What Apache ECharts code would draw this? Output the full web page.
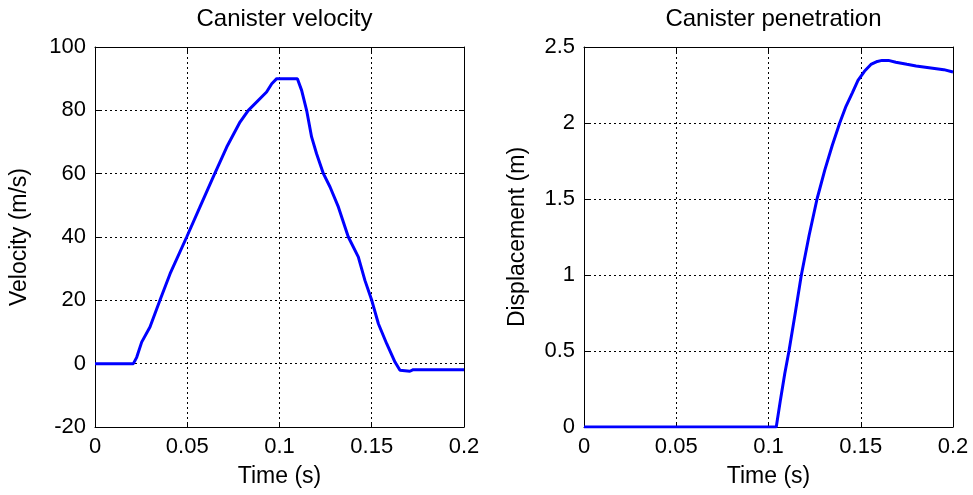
<!DOCTYPE html>
<html>
<head>
<meta charset="utf-8">
<script src="https://cdn.jsdelivr.net/npm/echarts@6/dist/echarts.min.js"></script>
<style>
  html, body { margin: 0; padding: 0; background: #fff; }
  #chart { width: 973px; height: 495px; }
</style>
</head>
<body>
<div id="chart"></div>
<script>
// Canister velocity history (s, m/s)
const velTime = [0, 0.0208, 0.0226, 0.0253, 0.0298, 0.0352, 0.0407, 0.0497, 0.0569, 0.0641,
  0.0714, 0.0786, 0.0831, 0.0930, 0.0958, 0.0985, 0.1097, 0.1120, 0.1147, 0.1174,
  0.1201, 0.1238, 0.1274, 0.1319, 0.1373, 0.1427, 0.1463, 0.1500, 0.1536, 0.1581,
  0.1626, 0.1653, 0.1707, 0.1725, 0.2];
const velocity = [0, 0, 2, 6.8, 11.6, 20, 28.4, 40, 49.5, 59,
  68.4, 76.3, 80, 85.8, 88.4, 90, 90, 86.3, 80, 71.6,
  66.3, 60, 55.8, 49.5, 40, 33.7, 26.3, 20, 12.6, 6.3,
  0.5, -2.1, -2.4, -1.9, -1.9];

// Canister penetration history (s, m)
const dispTime = [0, 0.1042, 0.1065, 0.1088, 0.1111, 0.1145, 0.1178, 0.1220, 0.1263, 0.1305,
  0.1345, 0.1386, 0.1420, 0.1455, 0.1485, 0.1520, 0.1555, 0.1590, 0.1615, 0.1650,
  0.1690, 0.1750, 0.1800, 0.1870, 0.1950, 0.2];
const displacement = [0, 0, 0.18, 0.35, 0.5, 0.75, 1.0, 1.26, 1.5, 1.69,
  1.85, 2.0, 2.11, 2.20, 2.28, 2.34, 2.385, 2.405, 2.412, 2.412,
  2.40, 2.386, 2.375, 2.364, 2.351, 2.336];

const titles = ['Canister velocity', 'Canister penetration'];
const yNames = ['Velocity (m/s)', 'Displacement (m)'];
const xName = 'Time (s)';

const FONT = 'Liberation Sans, Arial, sans-serif';
const FS = 22;      // tick labels
const FS_NAME = 23; // axis names
const FS_TITLE = 24;

const pairs = (xs, ys) => xs.map((x, i) => [x, ys[i]]);

const grids = [
  { left: 95, top: 47, width: 369, height: 380 },
  { left: 584, top: 47, width: 369, height: 380 }
];

const dotted = { show: true, lineStyle: { color: '#000', width: 1, type: [2, 3] } };
const blackLine = { show: true, onZero: false, lineStyle: { color: '#000', width: 1 } };
const tickIn = { show: true, inside: true, length: 5, lineStyle: { color: '#000' } };
const lbl = { color: '#000', fontSize: FS, fontFamily: FONT };
const nameStyle = { color: '#000', fontSize: FS_NAME, fontFamily: FONT };

function mainX(gi) {
  return {
    type: 'value', gridIndex: gi, min: 0, max: 0.2, interval: 0.05,
    position: 'bottom',
    axisLine: blackLine, axisTick: tickIn, splitLine: dotted,
    axisLabel: Object.assign({ margin: 9 }, lbl),
    name: xName, nameLocation: 'middle', nameGap: 38,
    nameTextStyle: nameStyle
  };
}
function topX(gi) {
  return {
    type: 'value', gridIndex: gi, min: 0, max: 0.2, interval: 0.05,
    position: 'top',
    axisLine: blackLine, axisTick: tickIn, splitLine: { show: false },
    axisLabel: { show: false }
  };
}
function mainY(gi, min, max, interval, name, gap) {
  return {
    type: 'value', gridIndex: gi, min: min, max: max, interval: interval,
    position: 'left',
    axisLine: blackLine, axisTick: tickIn, splitLine: dotted,
    axisLabel: Object.assign({ margin: 9 }, lbl),
    name: name, nameLocation: 'middle', nameGap: gap,
    nameTextStyle: nameStyle
  };
}
function rightY(gi, min, max, interval) {
  return {
    type: 'value', gridIndex: gi, min: min, max: max, interval: interval,
    position: 'right',
    axisLine: blackLine, axisTick: tickIn, splitLine: { show: false },
    axisLabel: { show: false }
  };
}

const titleStyle = { color: '#000', fontSize: FS_TITLE, fontWeight: 'normal', fontFamily: FONT };

const option = {
  animation: false,
  backgroundColor: '#fff',
  title: [
    { text: titles[0], left: 279.5, top: 2, textAlign: 'center', textStyle: titleStyle },
    { text: titles[1], left: 768.5, top: 2, textAlign: 'center', textStyle: titleStyle }
  ],
  grid: grids,
  xAxis: [mainX(0), topX(0), mainX(1), topX(1)],
  yAxis: [
    mainY(0, -20, 100, 20, yNames[0], 64),
    rightY(0, -20, 100, 20),
    mainY(1, 0, 2.5, 0.5, yNames[1], 55),
    rightY(1, 0, 2.5, 0.5)
  ],
  series: [
    { type: 'line', xAxisIndex: 0, yAxisIndex: 0, data: pairs(velTime, velocity),
      showSymbol: false, lineStyle: { color: '#0000ff', width: 3 }, z: 5 },
    { type: 'line', xAxisIndex: 2, yAxisIndex: 2, data: pairs(dispTime, displacement),
      showSymbol: false, lineStyle: { color: '#0000ff', width: 3 }, z: 5 }
  ]
};

const chart = echarts.init(document.getElementById('chart'), null, { renderer: 'canvas' });
chart.setOption(option);
</script>
</body>
</html>
